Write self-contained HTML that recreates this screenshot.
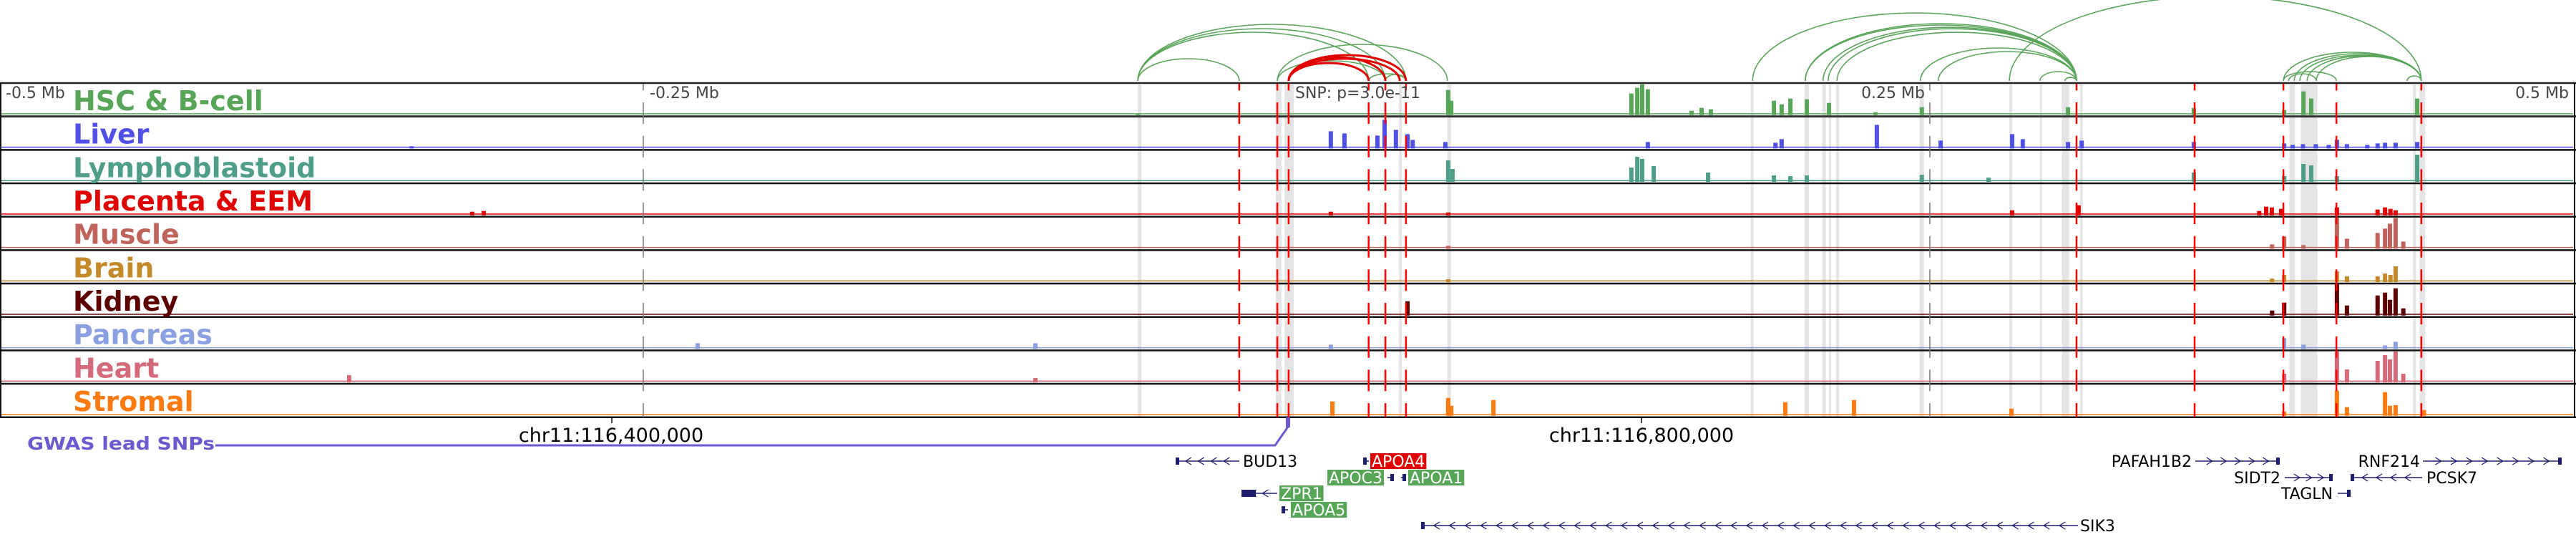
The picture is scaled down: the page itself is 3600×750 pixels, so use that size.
<!DOCTYPE html>
<html><head><meta charset="utf-8"><style>
html,body{margin:0;padding:0;background:#fff;width:3600px;height:750px;overflow:hidden}
svg{display:block}
</style></head><body>
<svg id="chart" width="3600" height="750" viewBox="0 0 3600 750" xmlns="http://www.w3.org/2000/svg" font-family="'DejaVu Sans','Liberation Sans',sans-serif">
<g id="bands"></g>
<g id="signals"></g>
<g id="frames"></g>
<g id="vlines"></g>
<g id="arcs"></g>
<g id="labels"></g>
<g fill="#444" font-size="22">
<text x="8" y="137">-0.5 Mb</text>
<text x="908" y="137">-0.25 Mb</text>
<text x="1810" y="137">SNP: p=3.0e-11</text>
<text x="2690" y="137" text-anchor="end">0.25 Mb</text>
<text x="3590" y="137" text-anchor="end">0.5 Mb</text>
</g>
<g>
<line x1="855" y1="583" x2="855" y2="591" stroke="#000" stroke-width="1.5"/>
<line x1="2294" y1="583" x2="2294" y2="591" stroke="#000" stroke-width="1.5"/>
<text x="854" y="617" font-size="27" text-anchor="middle">chr11:116,400,000</text>
<text x="2294" y="617" font-size="27" text-anchor="middle">chr11:116,800,000</text>
</g>
<g>
<text x="38" y="628" font-size="25" font-weight="bold" fill="#6a5acd" textLength="262" lengthAdjust="spacingAndGlyphs">GWAS lead SNPs</text>
<polyline points="301,622 1782,622 1800,596" fill="none" stroke="#6a5acd" stroke-width="3"/>
<rect x="1797" y="583" width="6" height="14" fill="#6a5acd"/>
</g>
<g id="genes"></g>
</svg>
<script>
const NS='http://www.w3.org/2000/svg';
function el(tag,attrs,parent){const e=document.createElementNS(NS,tag);for(const k in attrs)e.setAttribute(k,attrs[k]);parent.appendChild(e);return e;}
const X0=1798, PXKB=3.596;
function xs(kb){return X0+kb*PXKB;}
const TOP=116, TH=46.67;
const trackNames=['HSC & B-cell','Liver','Lymphoblastoid','Placenta & EEM','Muscle','Brain','Kidney','Pancreas','Heart','Stromal'];
const trackColors=['#57a557','#5050e6','#4e9e8a','#e00000','#c0635a','#c48a2a','#5c0000','#8aa0e0','#d46a7a','#ff7a10'];
const pos0=[-57.8,62.8,64,134.0,136.3,138.2,140.4,157.4,161.3,164.9,189.4,192.4,195.8,202.2,210.8,228.9,246.9,303.7,352.6,387.7,395.2,398.2,439.4];
const val0=[2,35,20,30,38,43,36,6,10,8,20,15,23,22,17,4,11,11,10,7,33,23,23];
const pos1=[-340,17.2,22.5,35.3,38.1,42.5,47.0,49,61.7,140.4,190,192.4,229.4,254.2,282.0,286.1,303.7,309.0,352.6,387.7,391,395,400,405,408.2,412.1,420,424,426.9,431.0,439.4];
const val1=[3,24,21,18,40,26,20,12,9,9,8,13,33,11,20,13,9,11,9,7,5,6,6,5,12,6,5,7,8,8,9];
const pos2=[62.8,64.5,134.0,136.3,138.2,142.7,163.8,189.4,195.8,202.2,246.9,272.8,352.6,387.7,395.2,398.2,408.2,439.4];
const val2=[30,18,20,35,32,22,13,9,8,9,10,6,13,8,25,23,8,38];
const pos3=[-316.5,-312,17.2,62.8,282.0,307.8,378,380.7,382.9,386.5,408.2,424,426.9,429,431.0];
const val3=[5,6,5,4,7,14,6,12,11,9,11,8,11,9,7];
const pos4=[62.8,383,387.7,395.2,408.2,412.1,424,426.9,428.8,431.0,434];
const val4=[4,6,17,5,43,14,22,28,35,43,10];
const pos5=[62.8,383,387.7,408.2,412.1,424,426.9,429,431.0];
const val5=[4,5,10,15,8,8,12,10,22];
const pos6=[47.0,383,387.7,408.2,412.1,424,426.9,428.8,431.0,434];
const val6=[20,7,18,45,14,28,32,22,38,10];
const pos7=[-228.9,-97.6,17.2,387.7,395.2,426.9,431.0];
const val7=[8,8,6,15,6,5,10];
const pos8=[-364.3,-97.6,387.7,408.2,412.1,424,426.9,428.8,431.0,434];
const val8=[10,6,12,43,18,30,38,32,43,12];
const pos9=[17.8,62.8,64,80.4,193.8,220.5,281.7,387.7,408.2,412.1,426.9,428.8,431.0,442];
const val9=[20,25,14,22,19,22,10,6,35,12,33,14,15,8];
const trackPos=[pos0,pos1,pos2,pos3,pos4,pos5,pos6,pos7,pos8,pos9];
const trackVal=[val0,val1,val2,val3,val4,val5,val6,val7,val8,val9];
const bandStart=[-57.8,-4.2,-0.8,43.7,62.5,180.4,201.3,208.2,210.8,213.6,246.0,254.2,280.9,292.8,301.3,308.3,389.7,394.2,437.8,440.3];
const bandWidth=[1.4,2.2,3.6,1.1,1.4,1.1,1.7,1.4,0.8,1.1,1.7,0.8,1.1,0.8,2.8,1.1,2.2,6.4,1.1,2.2];
const snpKb=[-18.4,-3.6,0.8,31.9,38.4,46.4,307.0,352.9,387.4,408.0,441.0];
const tickKb=[-250,250];
const arcStart=[-57.8,-57.8,-57.8,-57.8,-3.6,-3.6,31.9,38.4,181.1,201.6,201.6,208.5,210.5,213.9,246.3,253.3,280.9,292.8,302.5,387.4,391.6,393.8,396.6,400.2,387.4,389.4,435.5];
const arcEnd=[-18.4,31.9,38.4,46.4,62.5,38.4,46.4,46.4,307.0,307.0,307.0,307.0,307.0,307.0,307.0,307.0,441.0,307.0,307.0,441.0,441.0,441.0,441.0,441.0,408.0,400.2,441.0];
const arcTop=[82,45,40,34,62,85,103,104,18,33,35,38,40,45,67,72,-5,100,108,73,75,77,78,79,100,103,106];
const redStart=[0.8,0.8,0.8,0.8];
const redEnd=[31.9,38.4,46.4,44];
const redTop=[88,80,77,82];

const gBands=document.getElementById('bands');
for(let i=0;i<bandStart.length;i++){
  const r=el('rect',{x:xs(bandStart[i]),y:TOP+2,width:bandWidth[i]*PXKB,height:TH*10-2,fill:'#e4e4e4'},gBands);
  
  
}
const gSig=document.getElementById('signals');
const gLab=document.getElementById('labels');
const gFr=document.getElementById('frames');
for(let t=0;t<10;t++){
  const top=TOP+t*TH, base=top+TH-2;
  const g=el('g',{fill:trackColors[t]},gSig);
  
  
  el('rect',{x:2,y:base-2.5,width:3594,height:1.5},g);
  const P=trackPos[t],V=trackVal[t];
  for(let i=0;i<P.length;i++){
    const b=el('rect',{x:xs(P[i])-3,y:base-V[i],width:6,height:V[i]},g);
    
    
  }
  const tx=el('text',{x:102,y:top+38,'font-size':38,'font-weight':'bold',fill:trackColors[t]},gLab);
  tx.textContent=trackNames[t];
  
  
  const ln=el('line',{x1:0,y1:top+TH,x2:3600,y2:top+TH,stroke:t==0?'#333':'#111','stroke-width':t==0?3:2.5},gFr);
  
  
}
el('line',{x1:0,y1:TOP,x2:3600,y2:TOP,stroke:'#222','stroke-width':2.5},gFr);
el('line',{x1:1,y1:TOP,x2:1,y2:TOP+10*TH,stroke:'#111','stroke-width':2},gFr);
el('line',{x1:3598,y1:TOP,x2:3598,y2:TOP+10*TH,stroke:'#111','stroke-width':2},gFr);

const gV=document.getElementById('vlines');
function dashed(x,color,w,name){
  const g=el('g',{stroke:color,'stroke-width':w},gV);
  
  
  for(let k=-1;k<10;k++){
    let y1=TOP+27+k*TH, y2=y1+30;
    y1=Math.max(y1,TOP+1); y2=Math.min(y2,TOP+10*TH);
    if(y2>y1) el('line',{x1:x,y1:y1,x2:x,y2:y2},g);
  }
}
for(const k of tickKb) dashed(xs(k),'#777',1.5,'tick-line');
for(const k of snpKb) dashed(xs(k),'#ff0000',2.5,'snp-line');

const gA=document.getElementById('arcs');
const BASE=113;
function arc(a,b,top,color,w){
  const x1=xs(a),x2=xs(b),rx=(x2-x1)/2,ry=BASE-top;
  const p=el('path',{d:`M${x1},${BASE} A${rx},${ry} 0 0 1 ${x2},${BASE}`,fill:'none',stroke:color,'stroke-width':w},gA);
  
  
}
for(let i=0;i<arcStart.length;i++) arc(arcStart[i],arcEnd[i],arcTop[i],'#5aa55a',1.6);
for(let i=0;i<redStart.length;i++) arc(redStart[i],redEnd[i],redTop[i],'#e00000',3);

const gG=document.getElementById('genes');
const geneName=['BUD13','APOA4','APOC3','APOA1','ZPR1','APOA5','SIK3','PAFAH1B2','SIDT2','TAGLN','RNF214','PCSK7'];
const geneX1=[1643,1905,1939,1958,1735,1791,1986,3068,3193,3267,3386,3285];
const geneX2=[1732,1913,1948,1965,1785,1800,2904,3186,3260,3285,3580,3385];
const geneY=[644,644,667,667,689,712,734,644,667,689,644,667];
const geneStrand=[-1,-1,1,1,-1,-1,-1,1,1,1,1,-1];
const labX=[1737,1915,1855,1968,1788,1804,2907,3063,3187,3260,3382,3391];
const labAnchor=['start','start','start','start','start','start','start','end','end','end','end','start'];
const labBox=['','#e00000','#57a557','#57a557','#57a557','#57a557','','','','','',''];
for(let i=0;i<geneName.length;i++){
  const g=el('g',{},gG);
  
  
  const y=geneY[i];
  el('line',{x1:geneX1[i],y1:y,x2:geneX2[i],y2:y,stroke:'#1e1e6e','stroke-width':1.6},g);
  const len=geneX2[i]-geneX1[i];
  const n=Math.floor(len/22);
  for(let k=1;k<=n;k++){
    const cx=geneX1[i]+k*len/(n+1), d=4*geneStrand[i];
    el('polyline',{points:`${cx-d},${y-5} ${cx+d},${y} ${cx-d},${y+5}`,fill:'none',stroke:'#1e1e6e','stroke-width':1.3},g);
  }
  el('rect',{x:geneStrand[i]<0?geneX1[i]:geneX2[i]-5,y:y-5,width:5,height:10,fill:'#1e1e6e'},g);
  if(geneName[i]==='ZPR1') el('rect',{x:1735,y:y-5,width:20,height:10,fill:'#1e1e6e'},g);
  let box=null;
  if(labBox[i]) box=el('rect',{x:labX[i],y:y-11,width:60,height:22,fill:labBox[i]},g);
  const t=el('text',{x:labAnchor[i]==='start'?labX[i]+(labBox[i]?2:0):labX[i],y:y+8,'font-size':22,'text-anchor':labAnchor[i],fill:labBox[i]?'#fff':'#000'},g);
  t.textContent=geneName[i];
  
  
  if(box){ const bb=t.getBBox(); box.setAttribute('width',bb.width+4); }
}
</script>
</body></html>
